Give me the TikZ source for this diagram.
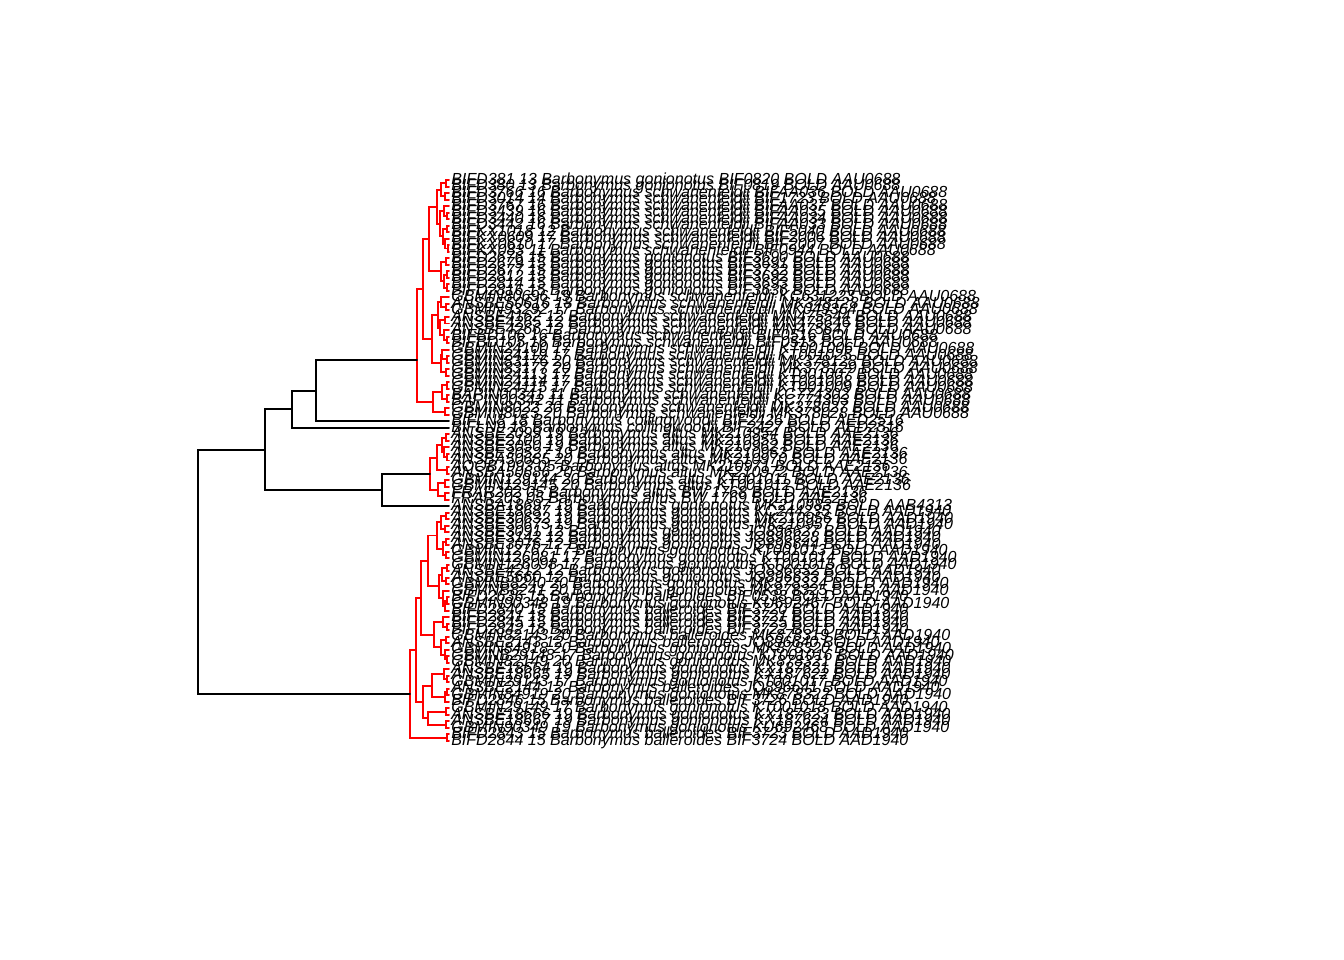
\documentclass[tikz,border=0pt]{standalone}
\usepackage{fontspec}
\setmainfont{Liberation Sans}
\usetikzlibrary{calc}

\tikzset{
  redbr/.style={draw=red,line width=1.4pt,line cap=round},
  blkbr/.style={draw=black,line width=1.4pt,line cap=round},
  tiplab/.style={anchor=west,inner sep=0pt,font=\itshape\fontsize{11.4}{12}\selectfont},
}
% node sits halfway between its two children
\newcommand{\clade}[5][redbr]{%
  \path let \p1=($(#4)!.5!(#5)$) in coordinate (#2) at (#3,\y1);
  \draw[#1] (#2) |- (#4) (#2) |- (#5);
}
\newcommand{\cladeat}[6][redbr]{%
  \coordinate (#2) at (#3,#4);
  \draw[#1] (#2) |- (#5) (#2) |- (#6);
}

\begin{document}
\begin{tikzpicture}[x=0.025cm,y=-0.025cm]
  \useasboundingbox (0,0) rectangle (1344,960);
  \def\gap{6.523}
  \foreach \lab [count=\i from 0] in {
    BIFD381 13 Barbonymus gonionotus BIF0820 BOLD AAU0688,
    BIFD380 13 Barbonymus gonionotus BIF0819 BOLD AAU0688,
    BIFD3766 16 Barbonymus schwanenfeldii BIFAA036 BOLD AAU0688,
    BIFD3014 14 Barbonymus schwanenfeldii BIF1723 BOLD AAU0688,
    BIFD3767 16 Barbonymus schwanenfeldii BIFAA037 BOLD AAU0688,
    BIFD3439 16 Barbonymus schwanenfeldii BIFAA035 BOLD AAU0688,
    BIFD3440 16 Barbonymus schwanenfeldii BIFAA034 BOLD AAU0688,
    BIFD3442 16 Barbonymus schwanenfeldii BIFAA033 BOLD AAU0688,
    BIFKX1018 12 Barbonymus schwanenfeldii BIF5040 BOLD AAU0688,
    BIFKX0609 17 Barbonymus schwanenfeldii BIF2006 BOLD AAU0688,
    BIFKX0610 17 Barbonymus schwanenfeldii BIF2007 BOLD AAU0688,
    BIFKX083 11 Barbonymus schwanenfeldii BIF0944 BOLD AAU0688,
    BIFD2676 15 Barbonymus gonionotus BIF3690 BOLD AAU0688,
    BIFD2679 15 Barbonymus gonionotus BIF3691 BOLD AAU0688,
    BIFD2677 15 Barbonymus gonionotus BIF3732 BOLD AAU0688,
    BIFD2812 15 Barbonymus gonionotus BIF3692 BOLD AAU0688,
    BIFD2814 15 Barbonymus gonionotus BIF3693 BOLD AAU0688,
    BIFD2816 15 Barbonymus gonionotus BIF3636 BOLD AAU0688,
    GBMIN80696 19 Barbonymus schwanenfeldii KC631223 BOLD AAU0688,
    ANSBE50616 18 Barbonymus schwanenfeldii MK348128 BOLD AAU0688,
    GBMIN93292 17 Barbonymus schwanenfeldii MK049364 BOLD AAU0688,
    ANSBE4162 12 Barbonymus schwanenfeldii MN475544 BOLD AAU0688,
    ANSBE4265 12 Barbonymus schwanenfeldii MN475646 BOLD AAU0688,
    ANSBE4266 12 Barbonymus schwanenfeldii MN475647 BOLD AAU0688,
    BIFBD106 16 Barbonymus schwanenfeldii BIF0516 BOLD AAU0688,
    BIFBD105 16 Barbonymus schwanenfeldii BIF0515 BOLD AAU0688,
    GBMIN24100 17 Barbonymus schwanenfeldii KT001006 BOLD AAU0688,
    GBMIN24119 17 Barbonymus schwanenfeldii KT001025 BOLD AAU0688,
    GBMIN83176 20 Barbonymus schwanenfeldii MK378128 BOLD AAU0688,
    GBMIN83177 20 Barbonymus schwanenfeldii MK378129 BOLD AAU0688,
    GBMIN24113 17 Barbonymus schwanenfeldii KT001007 BOLD AAU0688,
    GBMIN24114 17 Barbonymus schwanenfeldii KT001008 BOLD AAU0688,
    GBMIN24115 17 Barbonymus schwanenfeldii KT001009 BOLD AAU0688,
    BAPIN00341 11 Barbonymus schwanenfeldii KC774302 BOLD AAU0688,
    BAPIN00342 11 Barbonymus schwanenfeldii KC774303 BOLD AAU0688,
    GBMIN8022 20 Barbonymus schwanenfeldii MK378027 BOLD AAU0688,
    GBMIN8023 20 Barbonymus schwanenfeldii MK378028 BOLD AAU0688,
    BIFLN8 18 Barbonymus collingwoodii BIF2426 BOLD AED2516,
    BIFLN9 18 Barbonymus collingwoodii BIF2427 BOLD AED2516,
    ANSBE2099 19 Barbonymus altus MK210954 BOLD AAE2136,
    ANSBE2100 19 Barbonymus altus MK210955 BOLD AAE2136,
    ANSBE3050 19 Barbonymus altus MK210962 BOLD AAE2136,
    ANSBE30527 19 Barbonymus altus MK210963 BOLD AAE2136,
    ANSBA50685 20 Barbonymus altus MK210970 BOLD AAE2136,
    AQOB1993 05 Barbonymus altus MK210971 BOLD AAE2136,
    ANSBA50686 20 Barbonymus altus MK210972 BOLD AAE2136,
    GBMIN129144 20 Barbonymus altus KT001011 BOLD AAE2136,
    GBMIN129145 20 Barbonymus altus KT001012 BOLD AAE2136,
    FRAR202 05 Barbonymus altus BW 1768 BOLD AAE2136,
    FRAR203 05 Barbonymus altus BW 1769 BOLD AAE2136,
    ANSBA18697 19 Barbonymus gonionotus MK210983 BOLD AAB4313,
    ANSBE18687 19 Barbonymus gonionotus KC244235 BOLD AAD1940,
    ANSBE30632 19 Barbonymus gonionotus MK210956 BOLD AAD1940,
    ANSBE30673 19 Barbonymus gonionotus MK210957 BOLD AAD1940,
    ANSBE3091 12 Barbonymus gonionotus JQ896627 BOLD AAD1940,
    ANSBE3142 12 Barbonymus gonionotus JQ896628 BOLD AAD1940,
    ANSBE3076 12 Barbonymus gonionotus JQ896644 BOLD AAD1940,
    GBMIN12767 17 Barbonymus gonionotus KT001013 BOLD AAD1940,
    GBMIN126081 17 Barbonymus gonionotus KT001014 BOLD AAD1940,
    GBMIN126098 17 Barbonymus gonionotus KT001015 BOLD AAD1940,
    ANSBE4212 12 Barbonymus gonionotus JQ896632 BOLD AAD1940,
    ANSBE5660 12 Barbonymus gonionotus JQ896633 BOLD AAD1940,
    GBMNB8240 20 Barbonymus gonionotus MK878324 BOLD AAD1940,
    GBMNB8241 20 Barbonymus gonionotus MK878325 BOLD AAD1940,
    BIFD2636 15 Barbonymus balleroides BIF0538 BOLD AAD1940,
    GBMIN90348 19 Barbonymus gonionotus KU692467 BOLD AAD1940,
    BIFD2840 15 Barbonymus balleroides BIF3720 BOLD AAD1940,
    BIFD2841 15 Barbonymus balleroides BIF3721 BOLD AAD1940,
    BIFD2845 15 Barbonymus balleroides BIF3725 BOLD AAD1940,
    BIFD2842 15 Barbonymus balleroides BIF3722 BOLD AAD1940,
    GBMIN82143 20 Barbonymus balleroides MK878319 BOLD AAD1940,
    ANSBE2143 12 Barbonymus balleroides JQ896640 BOLD AAD1940,
    GBMIN84918 20 Barbonymus gonionotus MK878320 BOLD AAD1940,
    GBMNB29148 17 Barbonymus gonionotus KT001016 BOLD AAD1940,
    GBMIN82149 20 Barbonymus gonionotus MK878321 BOLD AAD1940,
    ANSBE18664 19 Barbonymus gonionotus KX187621 BOLD AAD1940,
    ANSBE18665 19 Barbonymus gonionotus KX187622 BOLD AAD1940,
    GBMIN29143 17 Barbonymus gonionotus KT001017 BOLD AAD1940,
    ANSBE2144 12 Barbonymus balleroides JQ896641 BOLD AAD1940,
    GBMIN84919 20 Barbonymus gonionotus MK878322 BOLD AAD1940,
    BIFD2846 15 Barbonymus balleroides BIF3726 BOLD AAD1940,
    GBMIN29149 17 Barbonymus gonionotus KT001018 BOLD AAD1940,
    ANSBE18666 19 Barbonymus gonionotus KX187623 BOLD AAD1940,
    ANSBE18667 19 Barbonymus gonionotus KX187624 BOLD AAD1940,
    GBMIN90349 19 Barbonymus gonionotus KU692468 BOLD AAD1940,
    BIFD2843 15 Barbonymus balleroides BIF3723 BOLD AAD1940,
    BIFD2844 15 Barbonymus balleroides BIF3724 BOLD AAD1940} {
    \coordinate (t\i) at (449,{180+\i*\gap});
    \node[tiplab] (lab\i) at (451,{180+\i*\gap}) {\lab};
  }
  % AAU0688
  \clade{g1a}{446}{t0}{t1}
  \clade{g1b}{445}{t2}{t3}
  \clade{g1p}{441}{g1a}{g1b}
  \clade{g1c}{447}{t5}{t6}
  \clade{g1d}{444}{t4}{g1c}
  \clade{g1e}{447}{t7}{t8}
  \clade{g1f}{448}{t10}{t11}
  \clade{g1g}{445}{t9}{g1f}
  \clade{g1h}{443}{g1e}{g1g}
  \clade{g1q}{440}{g1d}{g1h}
  \clade{g1}{437}{g1p}{g1q}
  \clade{g2a}{446}{t12}{t13}
  \clade{g2b}{447}{t14}{t15}
  \clade{g2c}{447}{t16}{t17}
  \clade{g2d}{444}{g2b}{g2c}
  \clade{g2}{441}{g2a}{g2d}
  \clade{h1}{429}{g1}{g2}
  \clade{g3a}{446}{t19}{t20}
  \clade{g3b}{441}{t18}{g3a}
  \clade{g3c}{445}{t21}{t22}
  \clade{g3d}{447}{t24}{t25}
  \clade{g3e}{444}{t23}{g3d}
  \clade{g3f}{440}{g3c}{g3e}
  \clade{g3g}{438}{g3b}{g3f}
  \clade{u3a}{447}{t27}{t28}
  \clade{u3b}{442}{t26}{u3a}
  \clade{u3c}{446}{t29}{t30}
  \clade{u3g}{441}{u3b}{u3c}
  \clade{g3}{432}{g3g}{u3g}
  \clade{u1}{423}{h1}{g3}
  \clade{u3d}{447}{t31}{t32}
  \clade{u3e}{447}{t33}{t34}
  \clade{u3f}{442}{u3d}{u3e}
  \clade{u4}{445}{t35}{t36}
  \clade{u2}{433}{u3f}{u4}
  \cladeat{u0}{417}{360}{u1}{u2}
  % AAE2136
  \clade{a3a}{446}{t39}{t40}
  \clade{a3b}{447}{t42}{t43}
  \clade{a3c}{444}{t41}{a3b}
  \clade{a3}{442}{a3a}{a3c}
  \clade{a4}{447}{t44}{t45}
  \clade{a1}{437}{a3}{a4}
  \clade{a2a}{445}{t46}{t47}
  \clade{a2b}{445}{t48}{t49}
  \clade{a2}{438}{a2a}{a2b}
  \clade{a0}{430}{a1}{a2}
  % AAD1940
  \clade{d9a}{446}{t51}{t52}
  \clade{d9b}{445}{t53}{t54}
  \clade{d9c}{441}{d9a}{d9b}
  \clade{d9d}{446}{t55}{t56}
  \clade{d9e}{446}{t57}{t58}
  \clade{d9f}{443}{d9d}{d9e}
  \clade{d9}{437}{d9c}{d9f}
  \clade{d10a}{447}{t59}{t60}
  \clade{d10b}{446}{t61}{t62}
  \clade{d10c}{442}{d10a}{d10b}
  \clade{d10d}{447}{t64}{t65}
  \clade{d10e}{445}{d10d}{t66}
  \clade{d10f}{443}{t63}{d10e}
  \clade{d10}{439}{d10c}{d10f}
  \clade{d5}{428}{d9}{d10}
  \clade{d6a}{447}{t68}{t69}
  \clade{d6b}{443}{t67}{d6a}
  \clade{d6c}{446}{t70}{t71}
  \clade{d6d}{447}{t73}{t74}
  \clade{d6e}{445}{t72}{d6d}
  \clade{d6f}{441}{d6c}{d6e}
  \clade{d6}{434}{d6b}{d6f}
  \clade{d3}{421}{d5}{d6}
  \clade{d7a}{447}{t76}{t77}
  \clade{d7b}{444}{t75}{d7a}
  \clade{d7c}{447}{t78}{t79}
  \clade{d7d}{445}{d7c}{t80}
  \clade{d7}{432}{d7b}{d7d}
  \clade{d8a}{446}{t81}{t82}
  \clade{d8b}{446}{t83}{t84}
  \clade{d8}{428}{d8a}{d8b}
  \clade{d4}{423}{d7}{d8}
  \clade{d1}{416}{d3}{d4}
  \clade{d2}{447}{t85}{t86}
  \clade{d0}{410}{d1}{d2}
  % backbone
  \clade[blkbr]{b4}{316}{u0}{t37}
  \clade[blkbr]{b3}{292}{b4}{t38}
  \clade[blkbr]{b5}{382}{a0}{t50}
  \clade[blkbr]{b1}{265}{b3}{b5}
  \clade[blkbr]{r0}{198}{b1}{d0}
\end{tikzpicture}
\end{document}
